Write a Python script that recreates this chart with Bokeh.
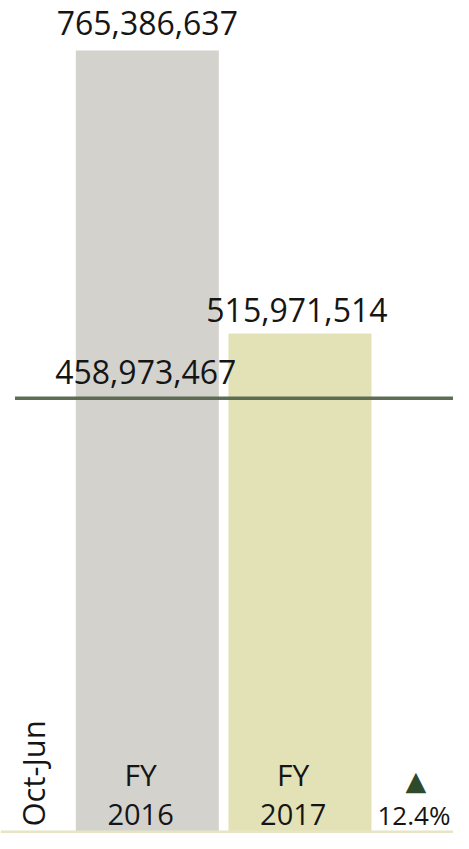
import math
from bokeh.plotting import figure
from bokeh.models import Range1d, Label, BoxAnnotation, ColumnDataSource
from bokeh.core.properties import value
from bokeh.embed import file_html
from bokeh.resources import INLINE

# ---- data ----
categories = ["FY 2016", "FY 2017"]
cat_line1 = ["FY", "FY"]
cat_line2 = ["2016", "2017"]
values = [765386637, 515971514]
value_labels = ["765,386,637", "515,971,514"]
prior_value = 458973467
prior_label = "458,973,467"
period_label = "Oct-Jun"
change_label = "12.4%"

# ---- styling / layout ----
FONT = "Open Sans"
BAR_COLORS = ["#d3d2cd", "#e3e2b7"]
LINE_COLOR = "#56654d"
TEXT_COLOR = "#151515"
ARROW_COLOR = "#2f4a2a"
W, H = 453, 833
LABEL_OFFSETS = [-28, -24]
LABEL_XSHIFT = [0.0, -0.02]

xs = list(range(len(categories)))
p = figure(width=W, height=H, output_backend="svg", toolbar_location=None,
           x_range=Range1d(-0.962, 2.006), y_range=Range1d(75.5e6, 809.5e6),
           min_border=0, outline_line_color=None, background_fill_color="white",
           border_fill_color="white")
p.axis.visible = False
p.grid.visible = False

src = ColumnDataSource(dict(x=xs, top=values, lab=value_labels, c=BAR_COLORS,
                            off=LABEL_OFFSETS,
                            lx=[x + s for x, s in zip(xs, LABEL_XSHIFT)]))
p.vbar(x="x", top="top", bottom=0, width=0.937, fill_color="c", line_color=None, source=src)

# reference line (previous period)
p.segment(x0=-0.867, x1=2.1, y0=prior_value, y1=prior_value, line_color=LINE_COLOR,
          line_width=3.5, line_alpha=0.95)

# value labels
p.text(x="lx", y="top", text="lab", source=src, text_align="center",
       text_baseline="middle", y_offset="off", text_font=value(FONT),
       text_font_size="32px", text_color=TEXT_COLOR)
p.text(x=[-0.01], y=[prior_value], text=[prior_label], text_align="center",
       text_baseline="middle", y_offset=-26, text_font=value(FONT),
       text_font_size="32px", text_color=TEXT_COLOR)

# category labels at bottom
for x, l1, l2 in zip(xs, cat_line1, cat_line2):
    p.add_layout(Label(x=x - 0.044, y=59, x_units="data", y_units="screen", text=l1,
                       text_align="center", text_baseline="middle",
                       text_font=FONT, text_font_size="30px", text_color=TEXT_COLOR))
    p.add_layout(Label(x=x - 0.044, y=19, x_units="data", y_units="screen", text=l2,
                       text_align="center", text_baseline="middle",
                       text_font=FONT, text_font_size="29px", text_color=TEXT_COLOR))

# period label (vertical)
p.add_layout(Label(x=-0.75, y=7, x_units="data", y_units="screen", text=period_label,
                   angle=math.pi / 2, text_align="left", text_baseline="middle",
                   text_font=FONT, text_font_size="31px", text_color=TEXT_COLOR))

# change indicator
p.add_layout(Label(x=1.759, y=53, x_units="data", y_units="screen", text="\u25B2",
                   text_align="center", text_baseline="middle",
                   text_font="DejaVu Sans", text_font_size="27px", text_color=ARROW_COLOR))
p.add_layout(Label(x=1.747, y=19, x_units="data", y_units="screen", text=change_label,
                   text_align="center", text_baseline="middle",
                   text_font=FONT, text_font_size="26px", text_color=TEXT_COLOR))

# thin strip at the bottom edge
p.add_layout(BoxAnnotation(bottom=0, top=3, bottom_units="screen", top_units="screen",
                           fill_color="#e7e5c3", fill_alpha=1, line_color=None))

open("out.html", "w").write(file_html(p, INLINE))
